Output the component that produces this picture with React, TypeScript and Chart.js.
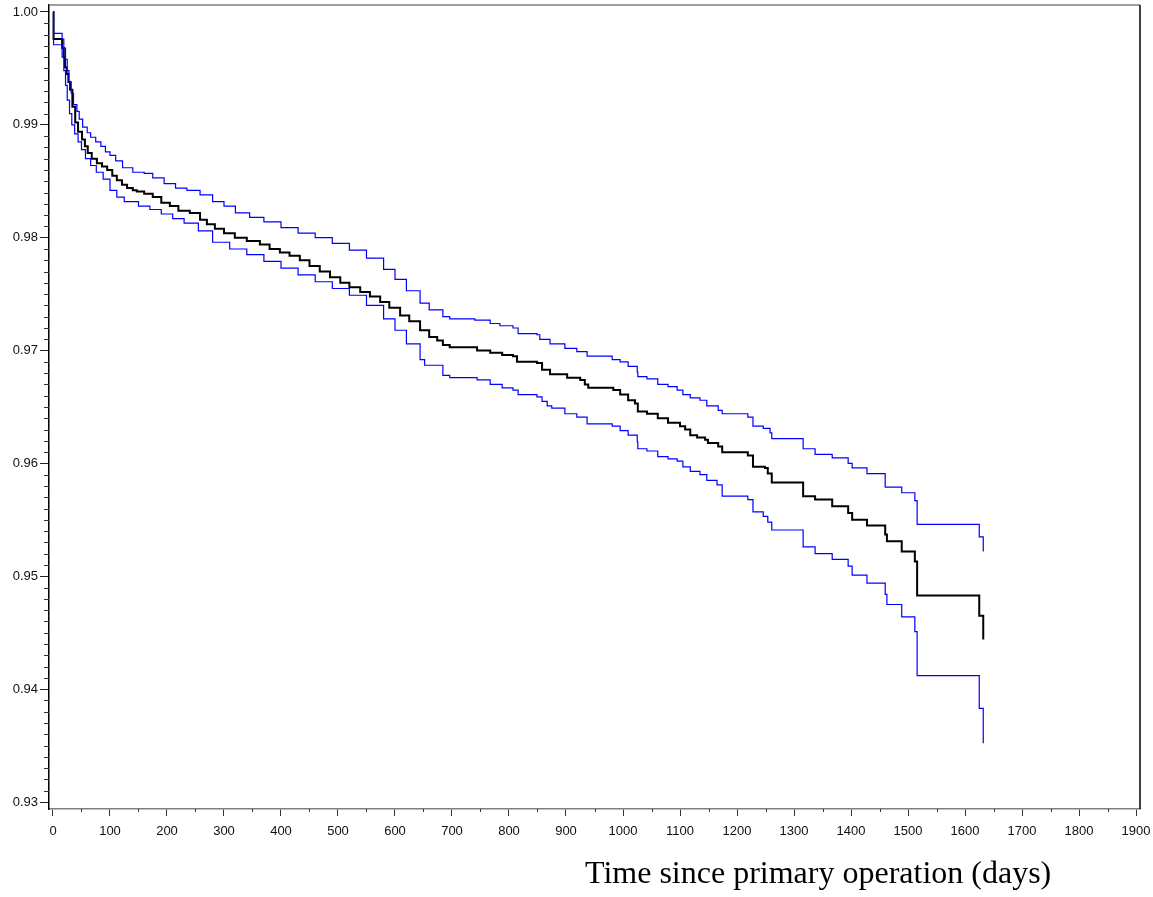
import React, { useEffect, useRef } from "react";
import { Chart, registerables } from "chart.js";

Chart.register(...registerables);

// Kaplan-Meier estimate (step drops: time in days, survival after the drop)
const kmTime = [0, 1, 16, 19, 21, 24, 27, 30, 34, 39, 44, 51, 56, 61, 68, 77, 86, 95, 104, 112, 121, 130, 140, 147, 160, 175, 190, 205, 220, 240, 258, 270, 284, 300, 319, 340, 363, 380, 398, 415, 433, 450, 468, 486, 504, 520, 539, 556, 574, 590, 609, 625, 644, 660, 674, 684, 696, 744, 767, 788, 807, 814, 849, 858, 872, 902, 925, 933, 939, 983, 995, 1009, 1021, 1026, 1042, 1061, 1079, 1100, 1109, 1118, 1130, 1144, 1149, 1167, 1174, 1219, 1228, 1249, 1254, 1261, 1316, 1337, 1367, 1395, 1402, 1428, 1460, 1463, 1489, 1512, 1516, 1625, 1632];
const kmSurv = [1.0, 0.9976, 0.9968, 0.996, 0.9951, 0.9945, 0.9938, 0.9931, 0.9916, 0.9902, 0.9894, 0.9887, 0.9881, 0.9875, 0.987, 0.9866, 0.9863, 0.986, 0.9855, 0.9851, 0.9847, 0.9844, 0.9842, 0.9841, 0.9839, 0.9836, 0.9831, 0.9828, 0.9824, 0.9822, 0.9816, 0.9812, 0.9808, 0.9804, 0.98, 0.9797, 0.9794, 0.979, 0.9787, 0.9784, 0.978, 0.9775, 0.977, 0.9765, 0.976, 0.9756, 0.9752, 0.9748, 0.9743, 0.9738, 0.9731, 0.9726, 0.9718, 0.9712, 0.9709, 0.9705, 0.9703, 0.97, 0.9698, 0.9696, 0.9695, 0.969, 0.9689, 0.9683, 0.9679, 0.9676, 0.9674, 0.967, 0.9667, 0.9665, 0.9661, 0.9656, 0.9653, 0.9646, 0.9644, 0.964, 0.9636, 0.9633, 0.963, 0.9625, 0.9623, 0.9621, 0.9618, 0.9615, 0.961, 0.9607, 0.9597, 0.9596, 0.9591, 0.9583, 0.9571, 0.9568, 0.9562, 0.9556, 0.955, 0.9545, 0.9537, 0.9531, 0.9522, 0.9513, 0.9483, 0.9465, 0.9444];

// Upper confidence limit
const upperTime = [0, 1, 16, 19, 22, 25, 28, 32, 36, 42, 46, 52, 60, 66, 75, 84, 92, 100, 110, 122, 140, 160, 175, 195, 215, 235, 258, 280, 300, 320, 345, 370, 400, 430, 460, 490, 520, 550, 580, 600, 620, 644, 660, 684, 696, 740, 767, 784, 807, 816, 849, 854, 872, 898, 919, 937, 981, 995, 1009, 1025, 1026, 1042, 1061, 1079, 1095, 1105, 1118, 1135, 1147, 1167, 1174, 1219, 1228, 1246, 1258, 1261, 1316, 1337, 1367, 1395, 1402, 1428, 1460, 1489, 1512, 1516, 1625, 1632];
const upperSurv = [1.0, 0.9981, 0.9976, 0.9968, 0.9958, 0.9948, 0.9938, 0.9928, 0.9918, 0.9912, 0.9905, 0.9898, 0.9893, 0.9889, 0.9885, 0.9881, 0.9876, 0.9873, 0.9868, 0.9862, 0.9858, 0.9857, 0.9853, 0.9848, 0.9844, 0.9842, 0.9838, 0.9832, 0.9828, 0.9822, 0.9818, 0.9814, 0.9809, 0.9804, 0.98, 0.9795, 0.9789, 0.9782, 0.9772, 0.9763, 0.9753, 0.9742, 0.9736, 0.973, 0.9728, 0.9727, 0.9724, 0.9722, 0.972, 0.9715, 0.9714, 0.971, 0.9706, 0.9702, 0.9699, 0.9695, 0.9692, 0.969, 0.9686, 0.9681, 0.9677, 0.9675, 0.967, 0.9668, 0.9665, 0.9661, 0.9658, 0.9656, 0.9651, 0.9647, 0.9644, 0.9641, 0.9633, 0.9631, 0.9627, 0.9622, 0.9613, 0.9608, 0.9605, 0.96, 0.9596, 0.9591, 0.9579, 0.9574, 0.9567, 0.9546, 0.9535, 0.9522];

// Lower confidence limit
const lowerTime = [0, 1, 16, 19, 22, 25, 29, 33, 38, 44, 50, 57, 66, 76, 88, 100, 112, 125, 150, 170, 190, 210, 230, 255, 280, 310, 340, 370, 400, 430, 460, 490, 520, 550, 580, 600, 620, 644, 652, 684, 696, 744, 767, 788, 807, 816, 849, 858, 867, 875, 898, 919, 937, 981, 995, 1009, 1025, 1026, 1042, 1061, 1079, 1095, 1105, 1118, 1135, 1147, 1165, 1174, 1219, 1228, 1246, 1254, 1261, 1316, 1337, 1367, 1395, 1402, 1428, 1460, 1463, 1489, 1512, 1516, 1625, 1632];
const lowerSurv = [1.0, 0.9971, 0.996, 0.9948, 0.9935, 0.9922, 0.991, 0.99, 0.9892, 0.9885, 0.9878, 0.987, 0.9864, 0.9858, 0.9852, 0.9842, 0.9836, 0.9832, 0.9828, 0.9825, 0.9821, 0.9817, 0.9813, 0.9806, 0.9796, 0.979, 0.9785, 0.9779, 0.9773, 0.9767, 0.9761, 0.9755, 0.9749, 0.974, 0.9728, 0.9718, 0.9706, 0.9692, 0.9687, 0.9678, 0.9676, 0.9674, 0.967, 0.9667, 0.9665, 0.9661, 0.9659, 0.9655, 0.9651, 0.9649, 0.9644, 0.9641, 0.9635, 0.9633, 0.9629, 0.9625, 0.9619, 0.9613, 0.9611, 0.9606, 0.9604, 0.9602, 0.9597, 0.9593, 0.959, 0.9585, 0.9581, 0.9571, 0.9568, 0.9557, 0.9553, 0.9548, 0.9541, 0.9526, 0.952, 0.9515, 0.9509, 0.9501, 0.9494, 0.9484, 0.9475, 0.9464, 0.9451, 0.9412, 0.9383, 0.9352];

const xTickValues = [0, 100, 200, 300, 400, 500, 600, 700, 800, 900, 1000, 1100, 1200, 1300, 1400, 1500, 1600, 1700, 1800, 1900];
const yTickValues = [0.93, 0.94, 0.95, 0.96, 0.97, 0.98, 0.99, 1.0];
const xAxisTitle = "Time since primary operation (days)";

const toPoints = (t: number[], s: number[]) => t.map((x, i) => ({ x, y: s[i] }));

const framePlugin = {
  id: "frameAndMinor",
  afterDraw(chart: any) {
    const { ctx, chartArea } = chart;
    const xs = chart.scales.x;
    const ys = chart.scales.y;
    ctx.save();
    ctx.lineWidth = 1.5;
    ctx.strokeStyle = "#808080";
    ctx.beginPath();
    ctx.moveTo(chartArea.left, chartArea.top);
    ctx.lineTo(chartArea.right, chartArea.top);
    ctx.stroke();
    ctx.strokeStyle = "#000";
    ctx.beginPath();
    ctx.moveTo(chartArea.right, chartArea.top);
    ctx.lineTo(chartArea.right, chartArea.bottom);
    ctx.stroke();
    ctx.lineWidth = 1;
    ctx.strokeStyle = "#333";
    for (let v = 50; v < 1900; v += 100) {
      const px = Math.round(xs.getPixelForValue(v)) + 0.5;
      ctx.beginPath();
      ctx.moveTo(px, chartArea.bottom);
      ctx.lineTo(px, chartArea.bottom + 3);
      ctx.stroke();
    }
    for (let k = 930; k <= 1000; k++) {
      if (k % 10 === 0) continue;
      const py = Math.round(ys.getPixelForValue(k / 1000)) + 0.5;
      ctx.beginPath();
      ctx.moveTo(chartArea.left - 5, py);
      ctx.lineTo(chartArea.left, py);
      ctx.stroke();
    }
    ctx.fillStyle = "#000";
    ctx.font = '32px "Liberation Serif", "Times New Roman", serif';
    ctx.textAlign = "left";
    ctx.textBaseline = "alphabetic";
    ctx.fillText(xAxisTitle, 585, 883);
    ctx.restore();
  },
};

export default function App() {
  const ref = useRef<HTMLCanvasElement>(null);
  useEffect(() => {
    if (!ref.current) return;
    const tickFont = { family: '"Liberation Sans", Arial, sans-serif', size: 13 };
    const chart = new Chart(ref.current, {
      type: "line",
      data: {
        datasets: [
          { label: "Upper", data: toPoints(upperTime, upperSurv), borderColor: "#0000ff", borderWidth: 1.2, stepped: "before", pointRadius: 0, fill: false },
          { label: "Lower", data: toPoints(lowerTime, lowerSurv), borderColor: "#0000ff", borderWidth: 1.2, stepped: "before", pointRadius: 0, fill: false },
          { label: "Survival", data: toPoints(kmTime, kmSurv), borderColor: "#000000", borderWidth: 2, stepped: "before", pointRadius: 0, fill: false },
        ],
      },
      options: {
        responsive: false,
        animation: false,
        parsing: false as any,
        layout: { padding: { top: 5, right: 13, left: 0, bottom: 0 } },
        plugins: { legend: { display: false }, tooltip: { enabled: false } },
        scales: {
          x: {
            type: "linear",
            min: -7,
            max: 1907,
            afterBuildTicks: (scale: any) => {
              scale.ticks = xTickValues.map((value) => ({ value }));
            },
            afterFit: (scale: any) => {
              scale.height = 88;
              scale.paddingLeft = 0;
              scale.paddingRight = 0;
            },
            ticks: { font: tickFont, color: "#111", padding: 8, maxRotation: 0, autoSkip: false, callback: (v: any) => String(v) },
            grid: { drawOnChartArea: false, tickLength: 7, tickColor: "#333", tickWidth: 1 },
            border: { color: "#808080", width: 1.5 },
          },
          y: {
            type: "linear",
            min: 0.92938,
            max: 1.00062,
            afterBuildTicks: (scale: any) => {
              scale.ticks = yTickValues.map((value) => ({ value }));
            },
            afterFit: (scale: any) => {
              scale.width = 49;
              scale.paddingTop = 0;
              scale.paddingBottom = 0;
            },
            ticks: { font: tickFont, color: "#111", padding: 2, autoSkip: false, callback: (v: any) => Number(v).toFixed(2) },
            grid: { drawOnChartArea: false, tickLength: 9, tickColor: "#222", tickWidth: 1 },
            border: { color: "#000", width: 1.5 },
          },
        },
      },
      plugins: [framePlugin],
    });
    return () => chart.destroy();
  }, []);
  return (
    <div style={{ position: "fixed", left: 0, top: 0, width: 1153, height: 897, background: "#fff" }}>
      <canvas ref={ref} width={1153} height={897} style={{ width: 1153, height: 897, display: "block" }} />
    </div>
  );
}
